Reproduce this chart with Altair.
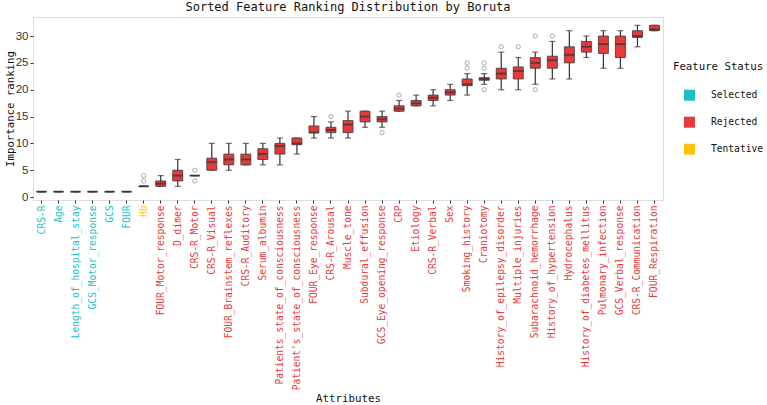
import json
import altair as alt
import pandas as pd

features = [
    "CRS-R", "Age", "Length_of_hospital_stay", "GCS_Motor_response", "GCS", "FOUR",
    "Hb", "FOUR_Motor_response", "D_dimer", "CRS-R_Motor", "CRS-R_Visual",
    "FOUR_Brainstem_reflexes", "CRS-R_Auditory", "Serum_albumin",
    "Patients_state_of_consciousness", "Patient's_state_of_consciousness",
    "FOUR_Eye_response", "CRS-R_Arousal", "Muscle_tone", "Subdural_effusion",
    "GCS_Eye_opening_response", "CRP", "Etiology", "CRS-R_Verbal", "Sex",
    "Smoking_history", "Craniotomy", "History_of_epilepsy_disorder",
    "Multiple_injuries", "Subarachnoid_hemorrhage", "History_of_hypertension",
    "Hydrocephalus", "History_of_diabetes_mellitus", "Pulmonary_infection",
    "GCS_Verbal_response", "CRS-R_Communication", "FOUR_Respiration",
]
status = ["Selected"] * 6 + ["Tentative"] + ["Rejected"] * 30

lower  = [1, 1, 1, 1, 1, 1, 2, 2, 2, 4, 5, 5, 6, 6, 6, 8, 11, 11, 11, 13, 13, 16, 17, 17, 18, 19, 21, 20, 20, 21, 22, 22, 26, 24, 24, 28, 31]
q1     = [1, 1, 1, 1, 1, 1, 2, 2, 3, 4, 5, 6, 6, 7, 8, 9.75, 12, 12, 12, 14, 14, 16, 17, 18, 19, 20.75, 21.75, 22, 22, 24, 24, 25, 27, 26.75, 26, 29.75, 31]
median = [1, 1, 1, 1, 1, 1, 2, 2.5, 4, 4, 6.5, 7, 7, 8, 9.5, 10, 12, 12.5, 13.5, 15, 14.5, 16.5, 17.5, 18.5, 19.5, 21, 22, 23, 23.5, 25, 25.5, 26.5, 28, 28.5, 28.5, 30, 31.25]
q3     = [1, 1, 1, 1, 1, 1, 2, 3, 5, 4, 7.25, 8, 8, 9, 10, 11, 13.25, 13, 14.25, 16, 15, 17, 18, 19, 20, 22, 22.25, 24, 24.25, 26, 26.25, 28, 29, 30, 30, 31, 32]
upper  = [1, 1, 1, 1, 1, 1, 2, 4, 7, 4, 10, 10, 10, 10, 11, 11, 15, 14, 16, 16, 16, 18, 19, 20, 21, 23, 23, 27, 26, 27, 29, 31, 30, 31, 31, 32, 32]

outlier_features = [
    "Hb", "Hb", "CRS-R_Motor", "CRS-R_Motor", "CRS-R_Arousal", "GCS_Eye_opening_response",
    "CRP", "Smoking_history", "Smoking_history", "Craniotomy", "Craniotomy", "Craniotomy",
    "History_of_epilepsy_disorder", "Multiple_injuries", "Subarachnoid_hemorrhage",
    "Subarachnoid_hemorrhage", "History_of_hypertension",
]
outlier_values = [3, 4, 3, 5, 15, 12, 19, 24, 25, 20, 24, 25, 28, 28, 20, 30, 30]

y_ticks = [0, 5, 10, 15, 20, 25, 30]

status_domain = ["Selected", "Rejected", "Tentative"]
status_colors = ["#1BBFC6", "#E8393A", "#FFC20A"]

df = pd.DataFrame(dict(feature=features, status=status, lower=lower, q1=q1,
                       median=median, q3=q3, upper=upper))
out_df = pd.DataFrame(dict(feature=outlier_features, value=outlier_values))

selected = [f for f, s in zip(features, status) if s == "Selected"]
tentative = [f for f, s in zip(features, status) if s == "Tentative"]
label_expr = (
    f"indexof({json.dumps(selected)}, datum.value) >= 0 ? '{status_colors[0]}' : "
    f"(indexof({json.dumps(tentative)}, datum.value) >= 0 ? '{status_colors[2]}' : '{status_colors[1]}')"
)

MONO = "DejaVu Sans Mono"

x_enc = alt.X(
    "feature:N", sort=features,
    scale=alt.Scale(paddingInner=0, paddingOuter=0),
    axis=alt.Axis(
        title="Attributes", labelAngle=-90, labelFont=MONO, labelFontSize=9.6,
        labelColor=alt.ExprRef(expr=label_expr), labelPadding=2, tickSize=3,
        tickColor="#333", domain=False, titleFont=MONO, titleFontSize=10.8,
        titleFontWeight="normal", titleColor="#111", titleY=198,
        titleBaseline="middle", labelOverlap=False, labelLimit=0,
    ),
)
yscale = alt.Scale(domain=[-0.55, 33.55], nice=False, zero=False)
y_axis = alt.Axis(
    title="Importance ranking", values=y_ticks, labelOverlap=False,
    labelFont="Liberation Sans", labelFontSize=11.5, labelColor="#333",
    tickSize=3, tickColor="#333", domain=False, grid=False, labelPadding=2,
    titleFont=MONO, titleFontSize=10.7, titleFontWeight="normal",
    titleColor="#111", titleX=-23, titleBaseline="middle",
)


def yenc(field):
    return alt.Y(field, type="quantitative", scale=yscale, axis=y_axis)


base = alt.Chart(df)
whisker = base.mark_rule(color="#333", strokeWidth=1.2).encode(
    x=x_enc, y=yenc("lower"), y2="upper:Q")
cap_lo = base.mark_tick(color="#333", size=6, thickness=1.2).encode(x=x_enc, y=yenc("lower"))
cap_hi = base.mark_tick(color="#333", size=6, thickness=1.2).encode(x=x_enc, y=yenc("upper"))
box = base.mark_bar(size=10, stroke="#3a3a3a", strokeWidth=0.8).encode(
    x=x_enc, y=yenc("q1"), y2="q3:Q",
    color=alt.Color(
        "status:N",
        scale=alt.Scale(domain=status_domain, range=status_colors),
        legend=alt.Legend(
            title="Feature Status", orient="none", legendX=640, legendY=45,
            titleFont=MONO, titleFontSize=10.7, titleFontWeight="normal",
            titleColor="#111", titlePadding=17, labelFont=MONO, labelFontSize=9.6,
            labelColor="#111", symbolType="square", symbolSize=121,
            symbolStrokeWidth=0, symbolOpacity=1, rowPadding=16, labelOffset=16,
            symbolOffset=11, padding=0,
        ),
    ),
)
med = base.mark_tick(color="#333", size=10, thickness=2).encode(x=x_enc, y=yenc("median"))
outl = alt.Chart(out_df).mark_point(shape="circle", size=18, color="#888",
                                    filled=False, strokeWidth=1).encode(x=x_enc, y=yenc("value"))

chart = alt.layer(whisker, cap_lo, cap_hi, box, med, outl).properties(
    width=630, height=183,
    title=alt.TitleParams("Sorted Feature Ranking Distribution by Boruta", font=MONO,
                          fontSize=12, fontWeight="normal", color="#111",
                          anchor="middle", offset=3),
    autosize=alt.AutoSizeParams(type="none"),
    padding={"left": 33, "top": 17, "right": 104, "bottom": 205},
).configure_view(stroke="#444", strokeWidth=1).configure(background="white")

chart.save("out.html", embed_options={"renderer": "svg", "actions": False})
